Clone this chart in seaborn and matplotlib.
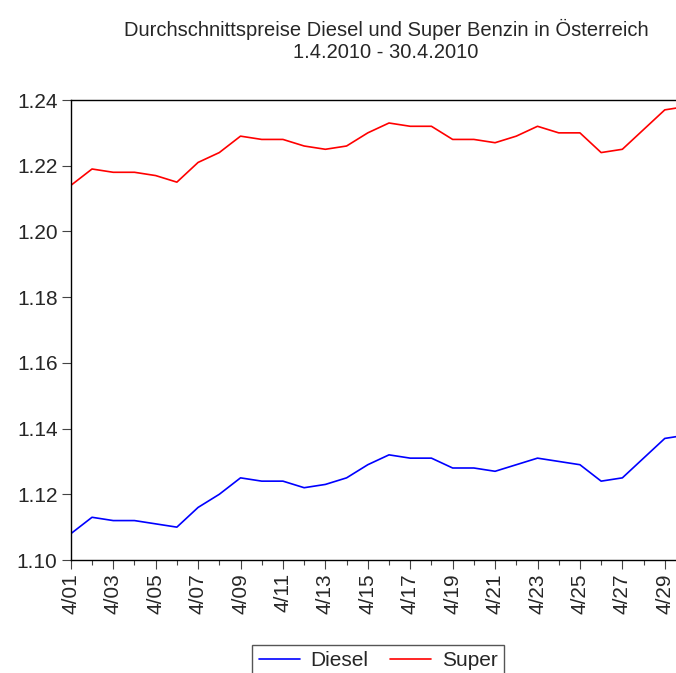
import seaborn as sns
import matplotlib.pyplot as plt
import pandas as pd

# Durchschnittspreise April 2010 (EUR/Liter)
days = [f"4/{d:02d}" for d in range(1, 31)]
diesel = [1.108, 1.113, 1.112, 1.112, 1.111, 1.110, 1.116, 1.120, 1.125, 1.124,
          1.124, 1.122, 1.123, 1.125, 1.129, 1.132, 1.131, 1.131, 1.128, 1.128,
          1.127, 1.129, 1.131, 1.130, 1.129, 1.124, 1.125, 1.131, 1.137, 1.138]
super_benzin = [1.214, 1.219, 1.218, 1.218, 1.217, 1.215, 1.221, 1.224, 1.229, 1.228,
                1.228, 1.226, 1.225, 1.226, 1.230, 1.233, 1.232, 1.232, 1.228, 1.228,
                1.227, 1.229, 1.232, 1.230, 1.230, 1.224, 1.225, 1.231, 1.237, 1.238]
yticks = [1.10, 1.12, 1.14, 1.16, 1.18, 1.20, 1.22, 1.24]

df = pd.DataFrame({
    'idx': list(range(len(days))) * 2,
    'Preis': diesel + super_benzin,
    'Sorte': ['Diesel'] * len(days) + ['Super'] * len(days),
})

sns.set_theme(style='ticks')
plt.rcParams['font.family'] = ['Liberation Sans', 'DejaVu Sans']

fig = plt.figure(figsize=(6.76, 6.73), dpi=100)
# axes runs a bit past the right edge, like the cropped original
ax = fig.add_axes([70.8 / 676, 1 - 560 / 673, (686 - 70.8) / 676, 460 / 673])

sns.lineplot(data=df, x='idx', y='Preis', hue='Sorte',
             palette={'Diesel': '#0000ff', 'Super': '#ff0000'},
             linewidth=1.2, ax=ax, legend=False)

ax.set_xlim(0, 29)
ax.set_ylim(1.10, 1.24)
ax.set_yticks(yticks)
ax.set_yticklabels([f"{v:.2f}" for v in yticks], fontsize=15)
ax.set_xticks(range(0, 30, 2))
ax.set_xticklabels(days[::2], rotation=90, fontsize=15)
ax.set_xticks(range(30), minor=True)
ax.tick_params(axis='both', which='major', length=6.5, width=0.8, color='#444444', pad=3)
ax.tick_params(axis='x', which='minor', length=3.5, width=0.8, color='#444444')
ax.set_xlabel('')
ax.set_ylabel('')
for s in ['left', 'bottom', 'top']:
    ax.spines[s].set_color('black')
    ax.spines[s].set_linewidth(1.0)
ax.spines['right'].set_visible(False)

fig.text(386 / 676, 1 - 58 / 673,
         'Durchschnittspreise Diesel und Super Benzin in Österreich\n1.4.2010 - 30.4.2010',
         ha='center', va='baseline', fontsize=14.5, linespacing=1.22)

handles = [plt.Line2D([], [], color='#0000ff', linewidth=1.2),
           plt.Line2D([], [], color='#ff0000', linewidth=1.2)]
leg = fig.legend(handles, ['Diesel', 'Super'], loc='upper center',
                 bbox_to_anchor=(378 / 676, 1 - 645 / 673), ncol=2, fontsize=15,
                 frameon=True, fancybox=False, edgecolor='#555555', framealpha=1,
                 handlelength=2.0, columnspacing=1.0, handletextpad=0.5,
                 borderpad=0.3, borderaxespad=0)
leg.get_frame().set_linewidth(1.0)

fig.savefig('out.png', dpi=100)
